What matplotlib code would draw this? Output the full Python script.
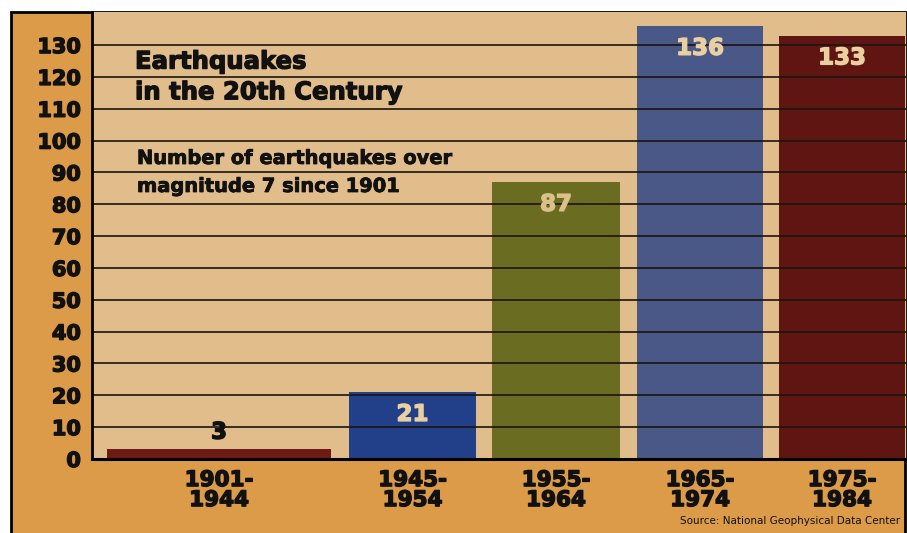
import matplotlib.pyplot as plt
import matplotlib.patheffects as pe
from matplotlib.patches import Rectangle

periods = ["1901-\n1944", "1945-\n1954", "1955-\n1964", "1965-\n1974", "1975-\n1984"]
counts = [3, 21, 87, 136, 133]
bar_colors = ["#6e1a16", "#22408a", "#6a6c22", "#4a5887", "#5f1612"]
value_colors = ["#111111", "#ead0a0", "#dcc08a", "#ead0a0", "#ead0a0"]
y_ticks = list(range(0, 140, 10))

# layout in pixel-like units along the x axis
bar_left = [15, 257, 400, 545, 687]
bar_width = [224, 127, 128, 126, 126]

ORANGE = "#dc9b48"
TAN = "#e2bd8c"
INK = "#111111"
FONT = "DejaVu Sans"


def heavy(color=INK, lw=1.0):
    # fake a "black" weight by outlining the bold glyphs
    return [pe.withStroke(linewidth=lw, foreground=color)]


def main():
    fig = plt.figure(figsize=(9.07, 5.33), dpi=100)
    fig.patch.set_facecolor("white")

    # outer orange frame
    W, H = 907.0, 533.0
    frame = Rectangle((11 / W, -0.05), (905 - 11) / W, (533 - 12) / H + 0.05,
                      transform=fig.transFigure, facecolor=ORANGE,
                      edgecolor="black", linewidth=2, zorder=-10)
    fig.patches.append(frame)

    ax = fig.add_axes([92 / W, (533 - 459) / H, (906 - 92) / W, (459 - 12) / H])
    ax.set_zorder(1)
    ax.set_facecolor(TAN)
    ax.set_xlim(0, 814)
    ax.set_ylim(0, 140.4)

    for yv in y_ticks[1:]:
        ax.axhline(yv, color="#1a1410", linewidth=1.2, zorder=3)

    for left, w, c, col, vc in zip(bar_left, bar_width, counts, bar_colors, value_colors):
        ax.bar(left, c, width=w, align="edge", color=col, zorder=2)
        if c < 10:
            ax.text(left + w / 2, c + 1.8, str(c), ha="center", va="bottom",
                    fontsize=16.5, fontweight="bold", color=vc, family=FONT,
                    zorder=4, path_effects=heavy(vc))
        else:
            ax.text(left + w / 2, c - 7, str(c), ha="center", va="center",
                    fontsize=16.5, fontweight="bold", color=vc, family=FONT,
                    zorder=4, path_effects=heavy(vc))

    centers = [l + w / 2 for l, w in zip(bar_left, bar_width)]
    ax.set_xticks(centers)
    ax.set_xticklabels(periods, fontsize=15.5, fontweight="bold", family=FONT,
                       linespacing=1.0, color=INK)
    ax.set_yticks(y_ticks)
    ax.set_yticklabels([str(v) for v in y_ticks], fontsize=15,
                       fontweight="bold", family=FONT, color=INK)
    for lab in ax.get_xticklabels() + ax.get_yticklabels():
        lab.set_path_effects(heavy())
    ax.tick_params(axis="both", length=0)
    ax.tick_params(axis="y", pad=8)
    ax.tick_params(axis="x", pad=8)

    for side in ["top", "right"]:
        ax.spines[side].set_visible(False)
    ax.spines["left"].set_linewidth(2)
    ax.spines["bottom"].set_linewidth(2.2)
    ax.spines["left"].set_zorder(5)
    ax.spines["bottom"].set_zorder(5)

    ax.text(43, 120, "Earthquakes\nin the 20th Century", ha="left", va="center",
            fontsize=17.5, fontweight="bold", family=FONT, linespacing=1.35,
            color=INK, zorder=4, path_effects=heavy(lw=0.9))
    ax.text(45, 90, "Number of earthquakes over\nmagnitude 7 since 1901", ha="left",
            va="center", fontsize=14, fontweight="bold", family=FONT,
            linespacing=1.6, color=INK, zorder=4, path_effects=heavy(lw=0.6))

    fig.text(900 / W, 1 - 521 / H, "Source: National Geophysical Data Center",
             ha="right", va="center", fontsize=7.5, family=FONT, color=INK)

    fig.savefig("out.png", dpi=100)


if __name__ == "__main__":
    main()
